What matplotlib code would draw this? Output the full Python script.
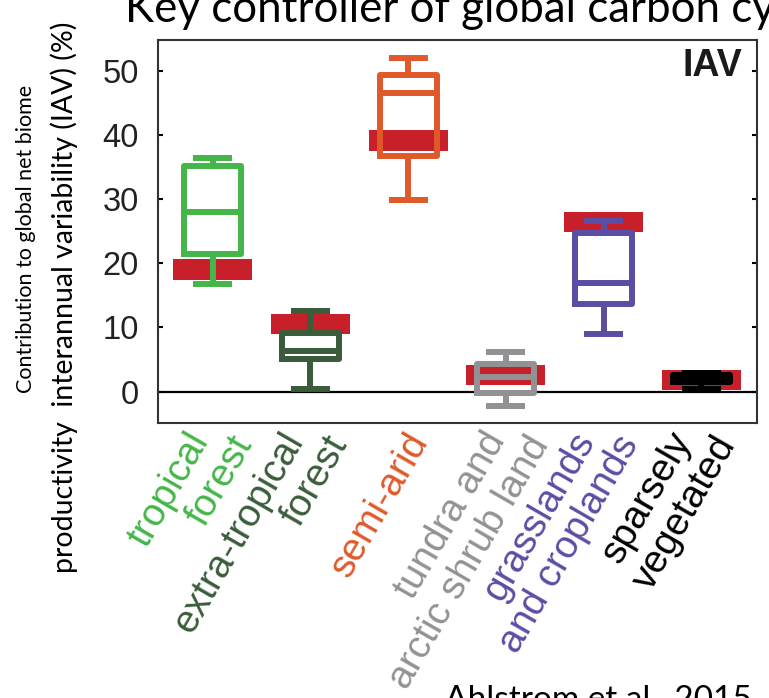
import matplotlib
matplotlib.use("Agg")
import matplotlib.pyplot as plt
from matplotlib.transforms import blended_transform_factory, offset_copy

# biome categories and their label colours
biomes = ["tropical\nforest", "extra-tropical\nforest", "semi-arid",
          "tundra and\narctic shrub land", "grasslands\nand croplands",
          "sparsely\nvegetated"]
colors = ["#45b649", "#3a5c3a", "#e0592a", "#929294", "#5a4ea3", "#000000"]

# model ensemble spread of each biome's contribution (%)
whis_lo = [16.7, 0.4, 29.9, -2.3, 9.0, 0.35]
q1 = [21.4, 5.1, 36.7, -0.25, 13.7, 1.5]
median = [28.0, 6.3, 46.6, 2.2, 17.0, 2.1]
q3 = [35.2, 9.2, 49.3, 4.3, 24.7, 2.65]
whis_hi = [36.4, 12.6, 52.0, 6.1, 26.6, 2.9]

# observation-based estimate (red bars)
obs = [19.0, 10.5, 39.1, 2.6, 26.4, 1.8]

yticks = [0, 10, 20, 30, 40, 50]

# horizontal nudge of each category label relative to its box
label_dx = [-0.28, -0.31, -0.04, -0.25, -0.33, -0.34]

W, H, DPI = 769, 698, 100
fig = plt.figure(figsize=(W / DPI, H / DPI), dpi=DPI)
ax = fig.add_axes([158 / W, 1 - 423 / H, (757 - 158) / W, (423 - 40) / H])

pos = list(range(1, len(biomes) + 1))

# red observation bars sit behind the boxes
obs_half = 1.6
ax.bar(pos, [2 * obs_half] * len(obs), bottom=[v - obs_half for v in obs],
       width=0.81, color="#c8202a", zorder=1)

ax.axhline(0, color="black", lw=1.6, zorder=1.5)

lw = 4.3
for i, p in enumerate(pos):
    stats = [dict(med=median[i], q1=q1[i], q3=q3[i],
                  whislo=whis_lo[i], whishi=whis_hi[i], fliers=[])]
    c = colors[i]
    ax.bxp(stats, positions=[p], widths=0.585, capwidths=0.40,
           showfliers=False, manage_ticks=False, zorder=2,
           boxprops=dict(color=c, lw=lw, solid_joinstyle="round"),
           medianprops=dict(color=c, lw=lw, solid_capstyle="butt"),
           whiskerprops=dict(color=c, lw=lw, solid_capstyle="butt"),
           capprops=dict(color=c, lw=lw, solid_capstyle="butt"))

ax.set_xlim(0.44, 6.57)
ax.set_ylim(-4.9, 54.8)
ax.set_xticks(pos, [])
ax.tick_params(axis="x", length=0)
ax.set_yticks(yticks)
ax.tick_params(axis="y", direction="in", length=3.6, width=1.5,
               right=True, pad=14, labelsize=23.5, labelcolor="#222222")
for lab in ax.get_yticklabels():
    lab.set_fontfamily("Liberation Sans")
for s in ax.spines.values():
    s.set_color("#333333")
    s.set_linewidth(1.5)

ax.text(0.975, 0.906, "IAV", transform=ax.transAxes, ha="right",
        va="baseline", fontsize=27, fontweight="bold",
        family="Liberation Sans", color="#1a1a1a")

# rotated, coloured category labels; each line is stepped right
trans = blended_transform_factory(ax.transData, ax.transAxes)
for p, dx, name, c in zip(pos, label_dx, biomes, colors):
    for j, line in enumerate(name.split("\n")):
        tr = offset_copy(trans, fig=fig, x=44 * j, y=-4 * j, units="dots")
        ax.text(p + dx, -0.008, line, transform=tr, rotation=60,
                rotation_mode="anchor", ha="right", va="top",
                fontsize=28, color=c, family="Liberation Sans")

fig.text(125 / W, 676 / H, "Key controller of global carbon cycle",
         fontsize=31.6, family="Lato", ha="left", va="baseline")
fig.text(26 / W, 1 - 239 / H, "Contribution to global net biome",
         rotation=90, fontsize=15.5, family="Lato", ha="center", va="center")
fig.text(64 / W, 1 - 297 / H,
         "productivity  interannual variability (IAV) (%)",
         rotation=90, fontsize=20.5, family="Lato", ha="center", va="center")
fig.text(445 / W, -11 / H, "Ahlstrom et al., 2015",
         fontsize=24, family="Lato", ha="left", va="baseline")

fig.savefig("out.png", dpi=DPI)
